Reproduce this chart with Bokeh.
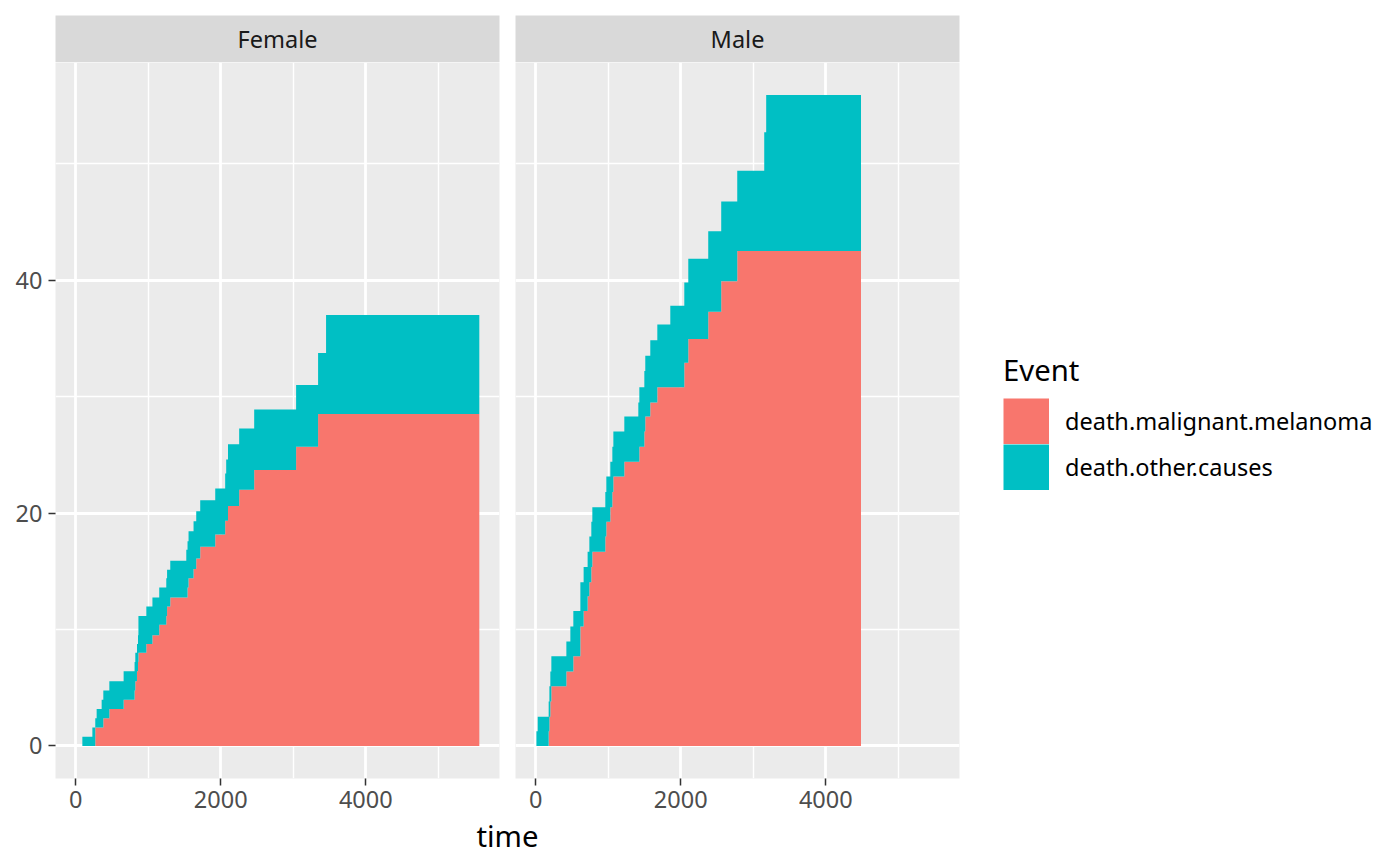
import numpy as np
from bokeh.plotting import figure
from bokeh.models import Range1d, FixedTicker, Legend, LegendItem, Label, ColumnDataSource
from bokeh.layouts import row, column
from bokeh.embed import file_html
from bokeh.resources import INLINE

# ---------------- data (cumulative incidence, %) ----------------
facets = ["Female", "Male"]
events = ["death.malignant.melanoma", "death.other.causes"]

female_time = [0, 92, 230, 270, 289, 358, 381, 464, 661, 812, 822, 845, 859, 865, 974,
               1058, 1152, 1249, 1260, 1304, 1525, 1542, 1556, 1625, 1662, 1717, 1924,
               2061, 2075, 2100, 2254, 2461, 3039, 3342, 3452, 5565]
female_melanoma = [0, 0, 0, 1.58, 1.58, 1.58, 2.38, 3.18, 3.97, 4.76, 5.56, 6.42, 7.22, 8.0,
                   8.75, 9.5, 10.4, 11.16, 11.97, 12.74, 12.74, 13.6, 14.4, 15.2, 16.1, 17.1,
                   18.15, 19.35, 19.35, 20.6, 22.0, 23.7, 25.7, 28.5, 28.5, 28.5]
female_other = [0, 0.80, 1.58, 0.80, 1.60, 2.39, 2.38, 2.38, 2.45, 2.46, 2.44, 2.33, 2.28,
                3.16, 3.22, 3.24, 3.20, 3.24, 3.16, 3.16, 4.11, 3.97, 4.03, 4.10, 4.06, 4.00,
                3.95, 4.05, 5.25, 5.30, 5.26, 5.20, 5.30, 5.25, 8.50, 8.50]

male_time = [0, 10, 28, 179, 189, 202, 216, 423, 478, 519, 616, 661, 716, 740, 767, 781,
             960, 974, 1029, 1057, 1071, 1222, 1415, 1429, 1498, 1511, 1580, 1677, 1856,
             2049, 2104, 2379, 2558, 2779, 3151, 3178, 4485]
male_melanoma = [0, 0, 0, 1.27, 2.51, 3.81, 5.12, 6.40, 6.40, 7.71, 10.25, 11.6, 12.86, 14.06,
                 15.37, 16.68, 17.99, 19.26, 20.5, 21.8, 23.15, 24.4, 24.4, 25.7, 27.0, 28.3,
                 29.5, 30.8, 30.8, 32.9, 34.95, 37.3, 39.9, 42.5, 42.5, 42.5, 42.5]
male_other = [0, 1.27, 2.51, 2.54, 2.61, 2.59, 2.59, 2.57, 3.85, 3.89, 3.81, 3.77, 3.82, 3.93,
              3.89, 3.82, 3.81, 3.89, 3.90, 3.90, 3.85, 3.90, 5.10, 5.10, 5.20, 5.20, 5.35,
              5.40, 7.00, 6.90, 6.90, 6.90, 6.85, 6.90, 10.20, 13.40, 13.40]

x_ticks = [0, 2000, 4000]
x_minor = [1000, 3000, 5000]
y_ticks = [0, 20, 40]
y_minor = [10, 30, 50]

# ---------------- style ----------------
FONT = "Noto Sans"
COLORS = ["#F8766D", "#00BFC4"]
PANEL_BG = "#EBEBEB"
STRIP_BG = "#D9D9D9"
TICK_COL = "#333333"
LABEL_COL = "#4D4D4D"
SMALL = "23.5px"
BIG = "29.3px"
FW, FH = 444, 716
LEFT = 55       # left edge of the first panel
TOP = 15        # top edge of the strips
KEY = 46        # legend key size

series = {
    "Female": (female_time, female_melanoma, female_other),
    "Male": (male_time, male_melanoma, male_other),
}

x_lo = min(min(female_time), min(male_time))
x_hi = max(max(female_time), max(male_time))
xpad = 0.05 * (x_hi - x_lo)
y_hi = max(max(np.add(female_melanoma, female_other)), max(np.add(male_melanoma, male_other)))
ypad = 0.05 * y_hi
xr = Range1d(x_lo - xpad, x_hi + xpad)
yr = Range1d(0 - ypad, y_hi + ypad)


def strip(name, left):
    s = figure(frame_width=FW, frame_height=47, x_range=Range1d(0, 1), y_range=Range1d(0, 1),
               output_backend="svg", toolbar_location=None,
               x_axis_location=None, y_axis_location=None,
               min_border_left=left, min_border_right=8, min_border_top=TOP, min_border_bottom=0)
    s.background_fill_color = STRIP_BG
    s.border_fill_color = "white"
    s.outline_line_color = None
    s.grid.visible = False
    s.add_layout(Label(x=0.5, y=0.5, text=name, text_align="center", text_baseline="middle",
                       text_font=FONT, text_font_size=SMALL, text_color="#1A1A1A"))
    return s


def panel(name, left, show_y):
    t, mel, oth = series[name]
    top = np.add(mel, oth)
    src = ColumnDataSource(dict(t=t, zero=np.zeros(len(t)), mel=mel, top=top))
    p = figure(frame_width=FW, frame_height=FH, x_range=xr, y_range=yr,
               output_backend="svg", toolbar_location=None,
               min_border_left=left, min_border_right=8, min_border_top=0, min_border_bottom=36)
    p.background_fill_color = PANEL_BG
    p.border_fill_color = "white"
    p.outline_line_color = None

    xt = FixedTicker(ticks=x_ticks, minor_ticks=x_minor)
    yt = FixedTicker(ticks=y_ticks, minor_ticks=y_minor)
    p.xaxis.ticker = xt
    p.xgrid.ticker = xt
    p.yaxis.ticker = yt
    p.ygrid.ticker = yt
    for ax in list(p.xaxis) + list(p.yaxis):
        ax.axis_line_color = None
        ax.major_tick_line_color = TICK_COL
        ax.major_tick_line_width = 1.5
        ax.major_tick_out = 7
        ax.major_tick_in = 0
        ax.minor_tick_line_color = None
        ax.major_label_text_font = FONT
        ax.major_label_text_font_size = SMALL
        ax.major_label_text_color = LABEL_COL
    p.xaxis.major_label_standoff = 5
    p.yaxis.major_label_standoff = 6
    if not show_y:
        p.yaxis.major_tick_line_color = None
        p.yaxis.major_tick_out = 0
        p.yaxis.major_label_standoff = 0
        p.yaxis.major_label_text_font_size = "0px"
        p.yaxis.major_label_text_color = None
    for g in p.grid:
        g.grid_line_color = "white"
        g.grid_line_width = 2.8
        g.minor_grid_line_color = "white"
        g.minor_grid_line_width = 1.4

    r1 = p.varea_step(x="t", y1="zero", y2="mel", step_mode="after", source=src,
                      fill_color=COLORS[0])
    r2 = p.varea_step(x="t", y1="mel", y2="top", step_mode="after", source=src,
                      fill_color=COLORS[1])
    return p, r1, r2


stripF = strip(facets[0], LEFT)
panelF, _, _ = panel(facets[0], LEFT, True)
stripM = strip(facets[1], 8)
panelM, rm1, rm2 = panel(facets[1], 8, False)

# legend keys: full-size colour blocks (ggplot style, no gap between keys);
# the proxies hold a single missing point, so they draw nothing in the panel
key1 = panelM.line(x=[np.nan], y=[np.nan], line_color=COLORS[0], line_width=KEY, line_cap="butt")
key2 = panelM.line(x=[np.nan], y=[np.nan], line_color=COLORS[1], line_width=KEY, line_cap="butt")

legend = Legend(items=[LegendItem(label=events[0], renderers=[key1]),
                       LegendItem(label=events[1], renderers=[key2])],
                title="Event", location="center_left", orientation="vertical",
                glyph_width=KEY, glyph_height=KEY, label_height=KEY, spacing=0,
                padding=10, margin=44, label_standoff=16, title_standoff=8,
                border_line_color=None, background_fill_alpha=0,
                title_text_font=FONT, title_text_font_size=BIG, title_text_font_style="normal",
                title_text_color="black",
                label_text_font=FONT, label_text_font_size=SMALL, label_text_color="black")
panelM.add_layout(legend, "right")

TH = 46
timeFig = figure(frame_width=2 * FW + 16, frame_height=TH, x_range=Range1d(0, 1),
                 y_range=Range1d(0, TH),
                 output_backend="svg", toolbar_location=None,
                 x_axis_location=None, y_axis_location=None,
                 min_border_left=LEFT, min_border_right=8, min_border_top=0, min_border_bottom=0)
timeFig.outline_line_color = None
timeFig.grid.visible = False
timeFig.border_fill_color = "white"
timeFig.background_fill_color = "white"
timeFig.add_layout(Label(x=0.5, y=TH - 1, text="time", text_align="center", text_baseline="top",
                         text_font=FONT, text_font_size=BIG, text_color="black"))

layout = column(row(column(stripF, panelF), column(stripM, panelM)), timeFig)

open("out.html", "w").write(file_html(layout, INLINE))
